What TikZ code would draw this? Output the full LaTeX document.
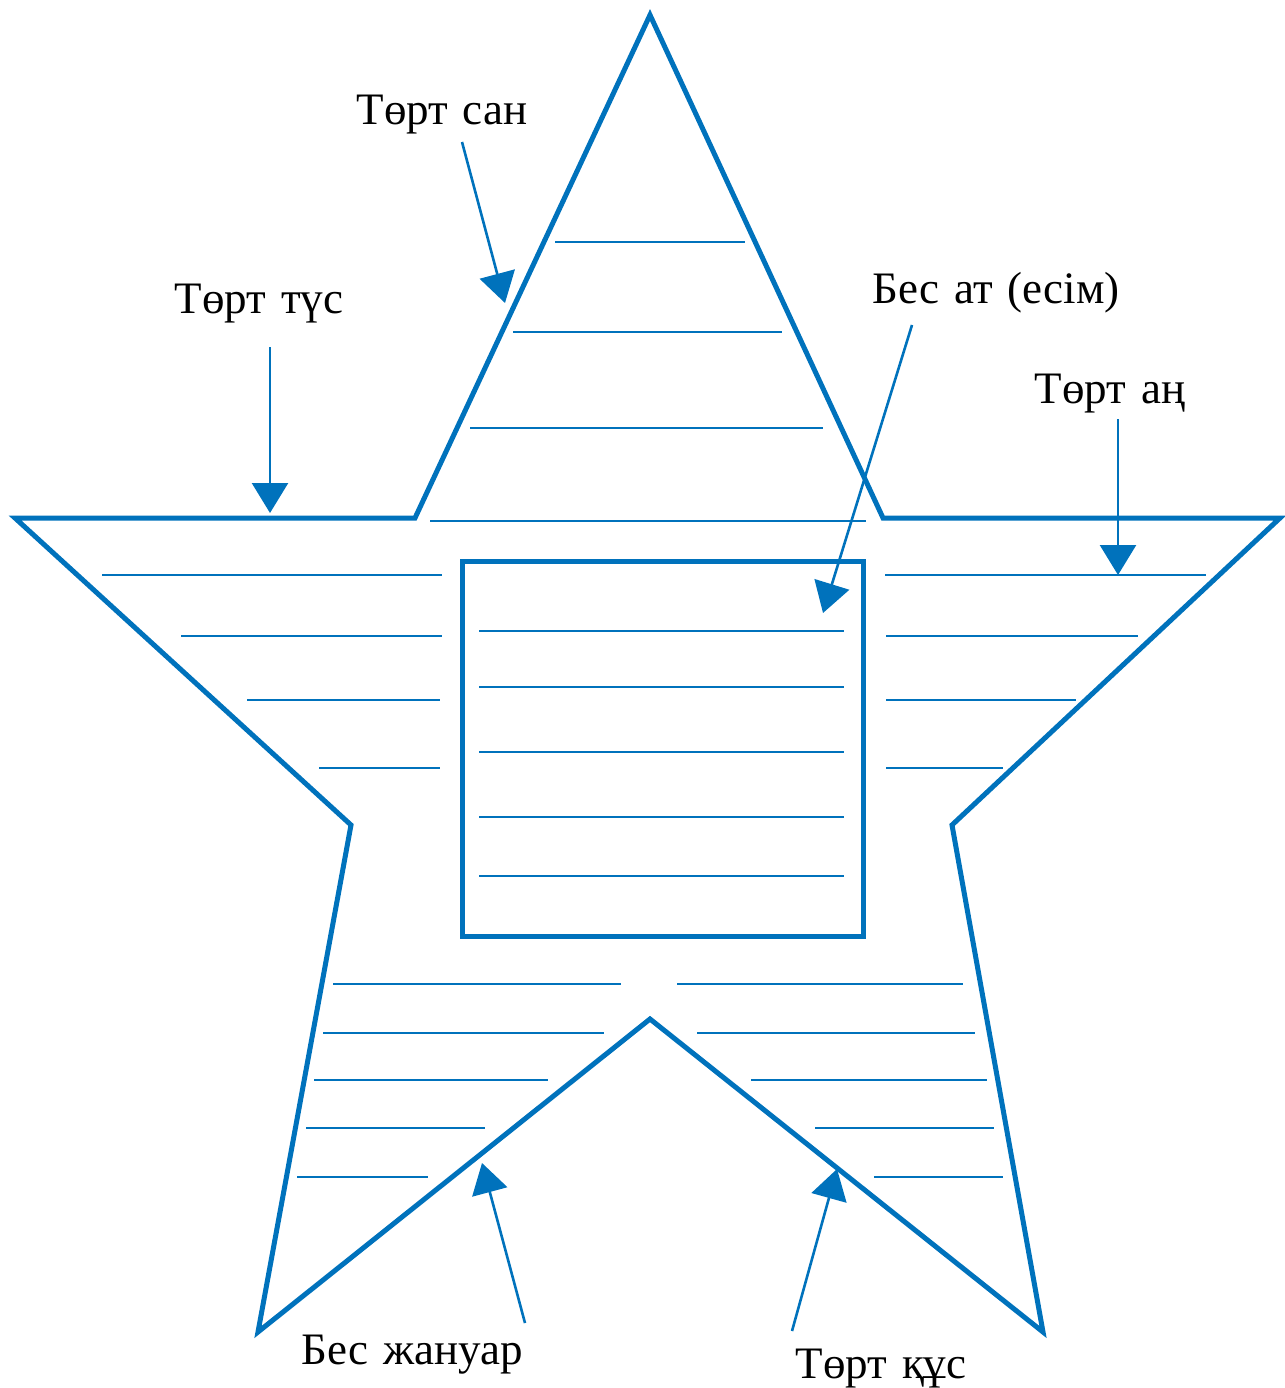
\documentclass[tikz,border=0pt]{standalone}
\usepackage{fontspec}
\setmainfont{Liberation Serif}
\usetikzlibrary{arrows.meta}
\definecolor{starblue}{RGB}{0,114,188}
\newcommand{\lblfont}{\fontsize{45}{52}\selectfont\spaceskip=0.33em plus 0.1em\relax}
\begin{document}
\begin{tikzpicture}[x=1pt,y=-1pt,
  outline/.style={draw=starblue,line width=5pt,line join=miter},
  rule/.style={draw=starblue,line width=2.3pt},
  pointer/.style={draw=starblue,line width=2.6pt,-{Triangle[length=30pt,width=36pt]},fill=starblue,shorten >=0pt},
  lbl/.style={anchor=base,inner sep=0pt,font=\lblfont}]
\useasboundingbox (0,0) rectangle (1284,1388);
% star
\draw[outline] (650,15) -- (883,518) -- (1280,518) -- (952,825) -- (1043,1332)
  -- (650,1019) -- (258,1332) -- (351,825) -- (15,518) -- (415,518) -- cycle;
% central square
\draw[outline] (462,561) rectangle (863,936);
% top triangle rules
\draw[rule] (555,242) -- (745,242);
\draw[rule] (513,332) -- (782,332);
\draw[rule] (470,428) -- (823,428);
\draw[rule] (430,521) -- (866,521);
% left arm
\draw[rule] (102,575) -- (442,575);
\draw[rule] (181,636) -- (442,636);
\draw[rule] (247,700) -- (440,700);
\draw[rule] (319,768) -- (440,768);
% right arm
\draw[rule] (885,575) -- (1206,575);
\draw[rule] (886,636) -- (1138,636);
\draw[rule] (886,700) -- (1076,700);
\draw[rule] (886,768) -- (1003,768);
% square rules
\foreach \y in {631,687,752,817,876} \draw[rule] (479,\y) -- (844,\y);
% bottom left leg
\draw[rule] (333,984) -- (621,984);
\draw[rule] (323,1033) -- (604,1033);
\draw[rule] (314,1080) -- (548,1080);
\draw[rule] (306,1128) -- (485,1128);
\draw[rule] (297,1177) -- (428,1177);
% bottom right leg
\draw[rule] (677,984) -- (963,984);
\draw[rule] (697,1033) -- (975,1033);
\draw[rule] (751,1080) -- (987,1080);
\draw[rule] (815,1128) -- (994,1128);
\draw[rule] (874,1177) -- (1003,1177);
% labels
\node[lbl] (san) at (442,125) {Төрт сан};
\node[lbl] (tus) at (259,313) {Төрт түс};
\node[lbl] (at) at (996,303) {Бес ат (есім)};
\node[lbl] (an) at (1110,403) {Төрт аң};
\node[lbl] (januar) at (412,1364) {Бес жануар};
\node[lbl] (qus) at (881,1378) {Төрт құс};
% arrow coordinates
\coordinate (sanS) at (462,142); \coordinate (sanT) at (505,303);
\coordinate (tusS) at (270,347); \coordinate (tusT) at (270,513);
\coordinate (atS) at (912,325); \coordinate (atT) at (823,613);
\coordinate (anS) at (1118,419); \coordinate (anT) at (1118,575);
\coordinate (janS) at (525,1323); \coordinate (janT) at (482,1163);
\coordinate (qusS) at (792,1331); \coordinate (qusT) at (837,1169);
\draw[pointer] (sanS) -- (sanT);
\draw[pointer] (tusS) -- (tusT);
\draw[pointer] (atS) -- (atT);
\draw[pointer] (anS) -- (anT);
\draw[pointer] (janS) -- (janT);
\draw[pointer] (qusS) -- (qusT);
\end{tikzpicture}
\end{document}
